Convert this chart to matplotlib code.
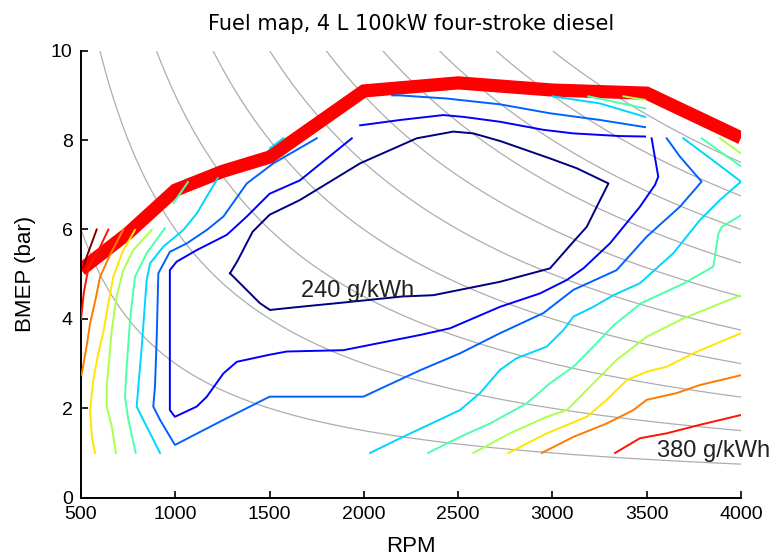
import numpy as np
import matplotlib
matplotlib.use("Agg")
import matplotlib.pyplot as plt

# engine
displacement_l = 4.0
power_kw = [10, 20, 30, 40, 50, 60, 70, 80, 90, 100]

# full load curve (rpm, bmep bar)
wot_rpm = [500, 750, 1000, 1250, 1500, 2000, 2500, 3000, 3500, 4000]
wot_bmep = [5.1, 5.92, 6.88, 7.3, 7.62, 9.1, 9.28, 9.12, 9.05, 8.05]

# bsfc contour pieces, (rpm, bmep); index = colour level
c0 = [(1290, 5.02), (1330, 5.3), (1410, 5.95), (1500, 6.33), (1661, 6.66), (1980, 7.48),
      (2280, 8.04), (2474, 8.19), (2580, 8.15), (2722, 7.98), (2987, 7.59), (3129, 7.37),
      (3297, 7.03), (3235, 6.51), (3182, 6.06), (3120, 5.77), (2987, 5.13), (2722, 4.83),
      (2545, 4.68), (2368, 4.53), (2200, 4.5), (1926, 4.38), (1661, 4.27), (1502, 4.2),
      (1449, 4.35), (1290, 5.02)]
c1_top = [(1980, 8.33), (2192, 8.45), (2421, 8.56), (2527, 8.52), (2722, 8.41), (2952, 8.23),
          (3111, 8.15), (3358, 8.09), (3491, 8.08)]
c1_main = [(1936, 8.04), (1661, 7.1), (1500, 6.8), (1379, 6.29), (1273, 5.88), (1114, 5.54),
           (1007, 5.28), (971, 5.09), (971, 1.96), (998, 1.81), (1114, 2.04), (1167, 2.26),
           (1255, 2.78), (1326, 3.04), (1502, 3.2), (1591, 3.27), (1891, 3.3), (2298, 3.64),
           (2457, 3.79), (2722, 4.27), (2934, 4.57), (3076, 4.87), (3164, 5.13), (3305, 5.69),
           (3464, 6.51), (3544, 7.0), (3561, 7.18), (3526, 8.04)]
c2_top = [(2150, 9.0), (2192, 9.0), (2439, 8.93), (2722, 8.8), (2987, 8.6), (3252, 8.45),
          (3491, 8.29)]
c2_main = [(1750, 8.04), (1520, 7.48), (1379, 7.03), (1255, 6.29), (1167, 5.99), (1061, 5.69),
           (971, 5.5), (910, 5.02), (901, 3.53), (892, 2.48), (883, 2.04), (919, 1.74),
           (998, 1.18), (1255, 1.74), (1500, 2.26), (1997, 2.26), (2298, 2.85), (2510, 3.23),
           (2722, 3.68), (2952, 4.13), (3111, 4.65), (3340, 5.09), (3500, 5.84), (3676, 6.51),
           (3791, 7.07), (3676, 7.63), (3606, 8.04)]
c3_top = [(3000, 8.98), (3252, 8.82), (3491, 8.52)]
c3_seg = [(1502, 7.82), (1573, 8.04)]
c3_left = [(1225, 7.15), (1114, 6.36), (1043, 5.99), (937, 5.62), (866, 5.24), (848, 4.87),
           (822, 3.38), (795, 2.04), (830, 1.74), (919, 1.0)]
c3_right = [(2033, 1.0), (2192, 1.33), (2510, 1.96), (2616, 2.34), (2722, 2.86), (2810, 3.12),
            (2970, 3.38), (3058, 3.75), (3111, 4.05), (3217, 4.27), (3323, 4.53), (3465, 4.8),
            (3641, 5.47), (3782, 6.21), (3888, 6.66), (4000, 7.07), (3850, 7.55), (3694, 8.04)]
c4_top = [(3190, 8.98), (3491, 8.71)]
c4_seg = [(990, 6.59), (1067, 7.06)]
c4_left = [(945, 6.03), (848, 5.47), (786, 4.94), (760, 3.98), (742, 2.93), (733, 2.26),
           (751, 1.74), (790, 1.0)]
c4_right = [(2340, 1.0), (2510, 1.36), (2669, 1.66), (2863, 2.11), (2987, 2.56), (3111, 2.93),
            (3217, 3.38), (3323, 3.85), (3470, 4.35), (3700, 4.8), (3853, 5.17), (3880, 5.91),
            (3898, 6.06), (4000, 6.32)]
c4_tr = [(3791, 8.04), (4000, 7.41)]
c5_top = [(3376, 8.98), (3491, 8.9)]
c5_left = [(875, 5.99), (777, 5.54), (724, 5.09), (689, 4.5), (663, 3.75), (636, 2.48),
           (636, 2.04), (663, 1.59), (685, 1.0)]
c5_right = [(2580, 1.0), (2775, 1.44), (2970, 1.81), (3076, 1.96), (3217, 2.56), (3340, 3.08),
            (3500, 3.6), (3694, 4.01), (4000, 4.53)]
c5_tr = [(3888, 8.04), (4000, 7.7)]
c6_left = [(574, 1.0), (557, 1.36), (548, 1.96), (565, 2.63), (590, 3.2), (618, 3.7),
           (645, 4.35), (671, 4.94), (720, 5.5), (786, 5.99)]
c6_right = [(2766, 1.0), (2970, 1.44), (3182, 1.81), (3288, 2.19), (3394, 2.63), (3500, 2.82),
            (3606, 2.93), (3747, 3.23), (4000, 3.68)]
c7_left = [(503, 2.75), (530, 3.4), (548, 3.9), (575, 4.4), (601, 4.94), (650, 5.4), (724, 6.0)]
c7_right = [(2943, 1.0), (3111, 1.36), (3288, 1.66), (3429, 1.96), (3500, 2.19), (3659, 2.34),
            (3782, 2.52), (4000, 2.74)]
c8_left = [(500, 4.0), (515, 4.6), (540, 5.15), (600, 5.6), (645, 6.0)]
c8_right = [(3332, 1.0), (3464, 1.33), (3606, 1.44), (3782, 1.63), (4000, 1.85)]
c9 = [(512, 5.15), (530, 5.39), (583, 6.0)]

pieces = [(0, c0), (1, c1_top), (1, c1_main), (2, c2_top), (2, c2_main),
          (3, c3_top), (3, c3_seg), (3, c3_left), (3, c3_right),
          (4, c4_top), (4, c4_seg), (4, c4_left), (4, c4_right), (4, c4_tr),
          (5, c5_top), (5, c5_left), (5, c5_right), (5, c5_tr),
          (6, c6_left), (6, c6_right), (7, c7_left), (7, c7_right),
          (8, c8_left), (8, c8_right), (9, c9)]

colors = plt.cm.jet(np.linspace(0, 1, 10))

fig = plt.figure(figsize=(7.74, 5.59), dpi=100)
ax = fig.add_axes([0.1047, 0.1097, 0.8527, 0.7996])

# constant power lines
rpm = np.linspace(500, 4000, 300)
for p in power_kw:
    ax.plot(rpm, 1200.0 * p / (displacement_l * rpm), color='0.68', lw=0.9, zorder=1)

ax.plot(wot_rpm, wot_bmep, color='red', lw=9.5, solid_joinstyle='miter',
        solid_capstyle='butt', zorder=2)

for lvl, pts in pieces:
    xs = [p[0] for p in pts]
    ys = [p[1] for p in pts]
    ax.plot(xs, ys, color=colors[lvl], lw=1.4, zorder=3)

ax.text(1667, 4.49, '240 g/kWh', fontsize=17, family='Liberation Sans',
        color='#222222', ha='left', va='baseline', zorder=4)
ax.text(3553, 0.92, '380 g/kWh', fontsize=17, family='Liberation Sans',
        color='#222222', ha='left', va='baseline', zorder=4, clip_on=False)

ax.set_xlim(500, 4000)
ax.set_ylim(0, 10)
ax.set_xticks(range(500, 4001, 500))
ax.set_yticks(range(0, 11, 2))
ax.spines['top'].set_visible(False)
ax.spines['right'].set_visible(False)
for s in ['left', 'bottom']:
    ax.spines[s].set_linewidth(1.4)
ax.tick_params(direction='in', length=5, width=1.2, labelsize=14, pad=6)
for lab in ax.get_xticklabels() + ax.get_yticklabels():
    lab.set_family('Liberation Sans')

ax.set_xlabel('RPM', fontsize=16, family='Liberation Sans', labelpad=9)
ax.set_ylabel('BMEP (bar)', fontsize=16, family='Liberation Sans', labelpad=11)
ax.set_title('Fuel map, 4 L 100kW four-stroke diesel', fontsize=15, pad=15)

fig.savefig('out.png', dpi=100)
